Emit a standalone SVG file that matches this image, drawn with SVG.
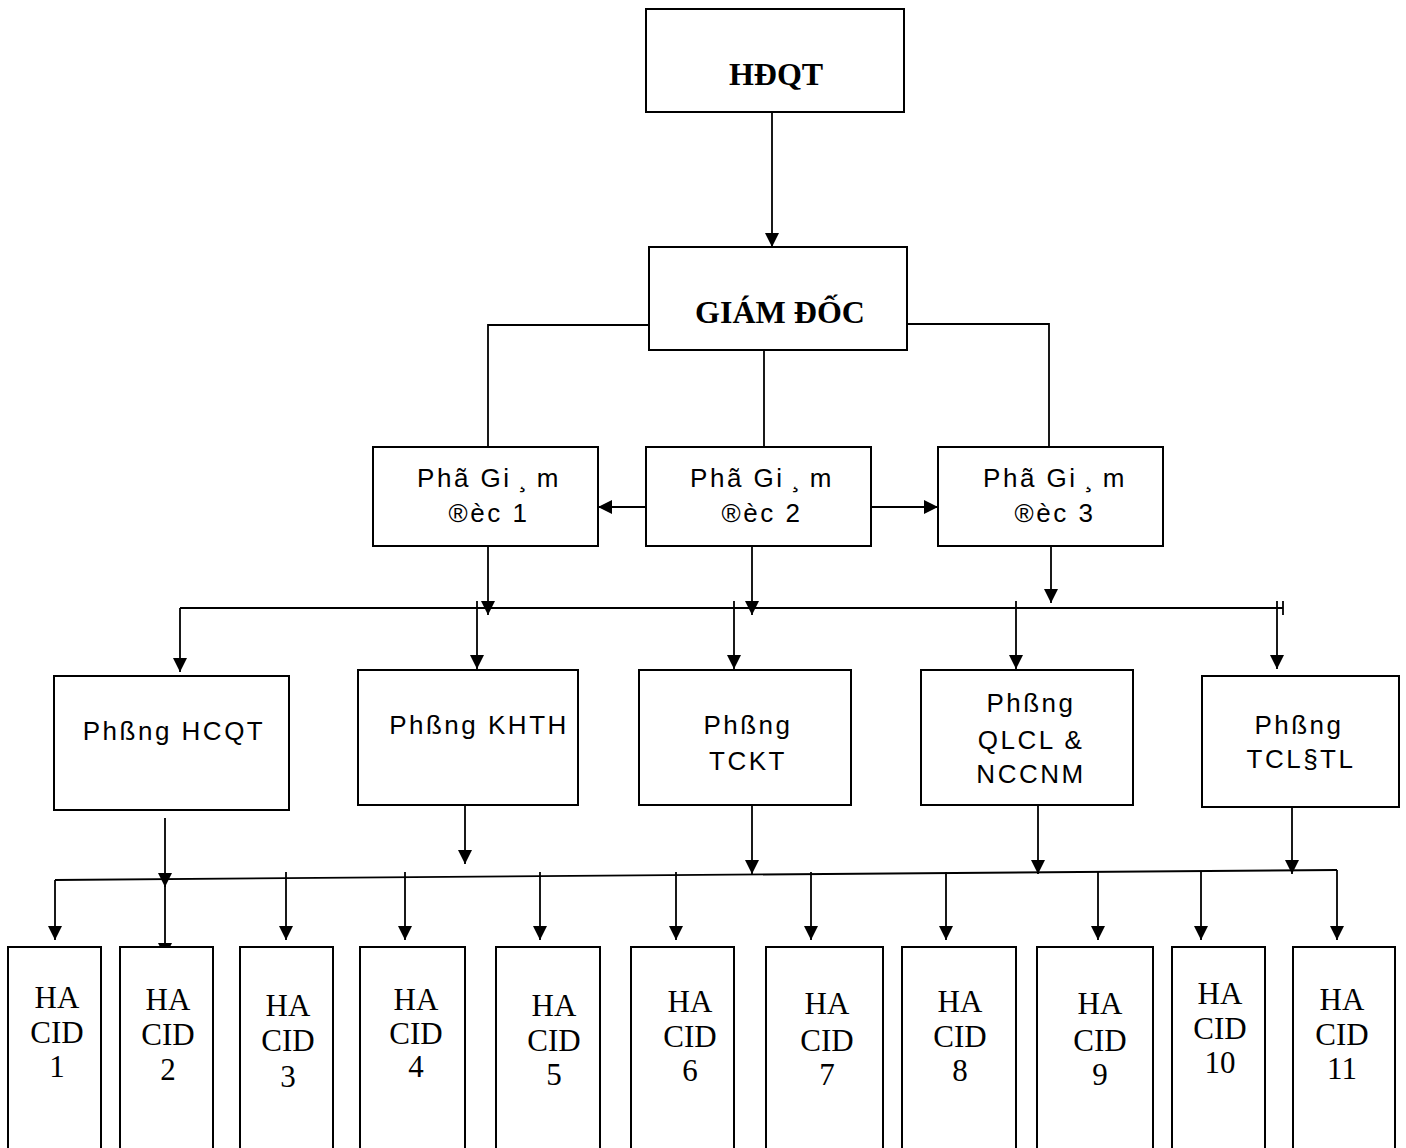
<svg xmlns="http://www.w3.org/2000/svg" width="1406" height="1148" viewBox="0 0 1406 1148">
<style>
.box{fill:#fff;stroke:#000;stroke-width:2}
.ln{fill:none;stroke:#000;stroke-width:1.8}
.a{fill:none;stroke:#000;stroke-width:1.8;marker-end:url(#ahm)}
.bold{font-family:"Liberation Serif",serif;font-weight:bold;font-size:32px;text-anchor:middle}
.sans{font-family:"Liberation Sans",sans-serif;font-size:26px;letter-spacing:2.5px;text-anchor:middle}
.ser{font-family:"Liberation Serif",serif;font-size:31px;text-anchor:middle}
</style>
<defs>
<marker id="ahm" viewBox="0 0 10 10" refX="10" refY="5" markerWidth="14" markerHeight="14" markerUnits="userSpaceOnUse" orient="auto"><path d="M0,0 L10,5 L0,10 z" fill="#000"/></marker>
</defs>
<rect width="1406" height="1148" fill="#fff"/>
<g id="connectors">
<path class="a" d="M772,112 V247"/>
<path class="ln" d="M649,325 H488 V447"/>
<path class="ln" d="M907,324 H1049 V447"/>
<path class="ln" d="M764,350 V447"/>
<path class="a" d="M646,507 H598"/>
<path class="a" d="M871,507 H938"/>
<path class="a" d="M488,546 V615"/>
<path class="a" d="M752,546 V615"/>
<path class="a" d="M1051,538 V603"/>
<path class="ln" d="M180,608 H1283"/>
<path class="ln" d="M1283,601 V615"/>
<path class="a" d="M180,608 V672"/>
<path class="a" d="M477,601 V669"/>
<path class="a" d="M734,601 V669"/>
<path class="a" d="M1016,601 V669"/>
<path class="a" d="M1277,601 V669"/>
<path class="a" d="M165,818 V887"/>
<path class="a" d="M165,878 V957"/>
<path class="a" d="M465,805 V864"/>
<path class="a" d="M752,805 V874"/>
<path class="a" d="M1038,805 V874"/>
<path class="a" d="M1292,808 V874"/>
<path class="ln" d="M55,880 L1337,870"/>
<path class="a" d="M55,880 V940"/>
<path class="a" d="M286,872 V940"/>
<path class="a" d="M405,872 V940"/>
<path class="a" d="M540,872 V940"/>
<path class="a" d="M676,872 V940"/>
<path class="a" d="M811,872 V940"/>
<path class="a" d="M946,872 V940"/>
<path class="a" d="M1098,872 V940"/>
<path class="a" d="M1201,872 V940"/>
<path class="a" d="M1337,870 V940"/>
</g>
<g id="hdqt"><rect class="box" x="646" y="9" width="258" height="103"/><text class="bold" x="776" y="85">HĐQT</text></g>
<g id="giamdoc"><rect class="box" x="649" y="247" width="258" height="103"/><text class="bold" x="780" y="323">GIÁM ĐỐC</text></g>
<g id="pgd1"><rect class="box" x="373" y="447" width="225" height="99"/><text class="sans" x="489" y="487">Phã Gi<tspan dx="7">¸</tspan><tspan dx="7">m</tspan></text><text class="sans" x="489" y="522">®èc 1</text></g>
<g id="pgd2"><rect class="box" x="646" y="447" width="225" height="99"/><text class="sans" x="762" y="487">Phã Gi<tspan dx="7">¸</tspan><tspan dx="7">m</tspan></text><text class="sans" x="762" y="522">®èc 2</text></g>
<g id="pgd3"><rect class="box" x="938" y="447" width="225" height="99"/><text class="sans" x="1055" y="487">Phã Gi<tspan dx="7">¸</tspan><tspan dx="7">m</tspan></text><text class="sans" x="1055" y="522">®èc 3</text></g>
<g id="hcqt"><rect class="box" x="54" y="676" width="235" height="134"/><text class="sans" x="174" y="740">Phßng HCQT</text></g>
<g id="khth"><rect class="box" x="358" y="670" width="220" height="135"/><text class="sans" x="479" y="734">Phßng KHTH</text></g>
<g id="tckt"><rect class="box" x="639" y="670" width="212" height="135"/><text class="sans" x="748" y="734">Phßng</text><text class="sans" x="748" y="770">TCKT</text></g>
<g id="qlcl"><rect class="box" x="921" y="670" width="212" height="135"/><text class="sans" x="1031" y="712">Phßng</text><text class="sans" x="1031" y="749">QLCL &amp;</text><text class="sans" x="1031" y="783">NCCNM</text></g>
<g id="tcldtl"><rect class="box" x="1202" y="676" width="197" height="131"/><text class="sans" x="1299" y="734">Phßng</text><text class="sans" x="1301" y="768">TCL§TL</text></g>
<g id="hacid1"><rect class="box" x="8" y="947" width="93" height="210"/><text class="ser" x="57" y="1008">HA</text><text class="ser" x="57" y="1043">CID</text><text class="ser" x="57" y="1077">1</text></g>
<g id="hacid2"><rect class="box" x="120" y="947" width="93" height="210"/><text class="ser" x="168" y="1010">HA</text><text class="ser" x="168" y="1045">CID</text><text class="ser" x="168" y="1080">2</text></g>
<g id="hacid3"><rect class="box" x="240" y="947" width="93" height="210"/><text class="ser" x="288" y="1016">HA</text><text class="ser" x="288" y="1051">CID</text><text class="ser" x="288" y="1087">3</text></g>
<g id="hacid4"><rect class="box" x="360" y="947" width="105" height="210"/><text class="ser" x="416" y="1010">HA</text><text class="ser" x="416" y="1044">CID</text><text class="ser" x="416" y="1077">4</text></g>
<g id="hacid5"><rect class="box" x="496" y="947" width="104" height="210"/><text class="ser" x="554" y="1016">HA</text><text class="ser" x="554" y="1051">CID</text><text class="ser" x="554" y="1085">5</text></g>
<g id="hacid6"><rect class="box" x="631" y="947" width="103" height="210"/><text class="ser" x="690" y="1012">HA</text><text class="ser" x="690" y="1047">CID</text><text class="ser" x="690" y="1081">6</text></g>
<g id="hacid7"><rect class="box" x="766" y="947" width="117" height="210"/><text class="ser" x="827" y="1014">HA</text><text class="ser" x="827" y="1051">CID</text><text class="ser" x="827" y="1085">7</text></g>
<g id="hacid8"><rect class="box" x="902" y="947" width="114" height="210"/><text class="ser" x="960" y="1012">HA</text><text class="ser" x="960" y="1047">CID</text><text class="ser" x="960" y="1081">8</text></g>
<g id="hacid9"><rect class="box" x="1037" y="947" width="116" height="210"/><text class="ser" x="1100" y="1014">HA</text><text class="ser" x="1100" y="1051">CID</text><text class="ser" x="1100" y="1085">9</text></g>
<g id="hacid10"><rect class="box" x="1172" y="947" width="93" height="210"/><text class="ser" x="1220" y="1004">HA</text><text class="ser" x="1220" y="1039">CID</text><text class="ser" x="1220" y="1073">10</text></g>
<g id="hacid11"><rect class="box" x="1293" y="947" width="102" height="210"/><text class="ser" x="1342" y="1010">HA</text><text class="ser" x="1342" y="1045">CID</text><text class="ser" x="1342" y="1079">11</text></g>
</svg>
